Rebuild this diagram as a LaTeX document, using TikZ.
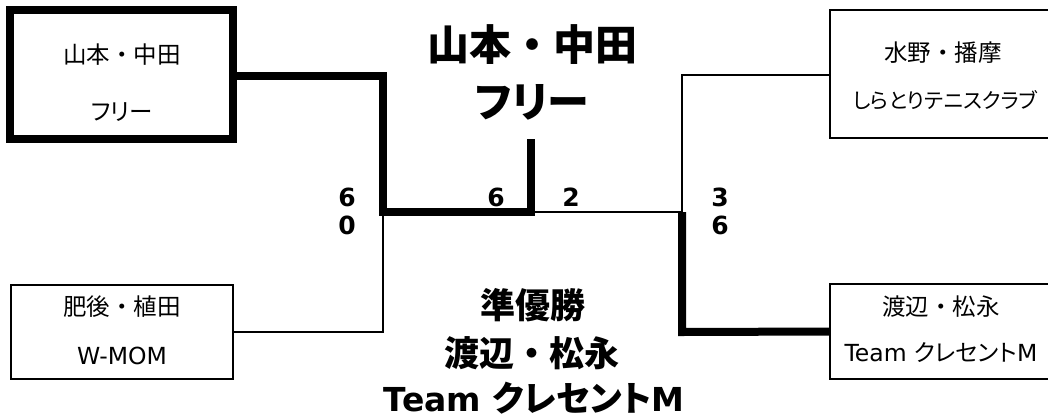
\documentclass[tikz,border=0pt]{standalone}
\usepackage{fontspec}
\newfontfamily\jp{Noto Sans CJK JP}
\newfontfamily\jpp[RawFeature=+palt]{Noto Sans CJK JP}
\newfontfamily\lat{DejaVu Sans}
\begin{document}
\begin{tikzpicture}[x=1pt,y=-1pt,
  boxthick/.style={draw,line width=8pt,inner sep=0pt,outer sep=0pt},
  boxthin/.style={draw,line width=2.8pt,inner sep=0pt,outer sep=0pt},
  thickline/.style={line width=8pt,line join=miter},
  thinline/.style={line width=2.8pt,line join=miter},
  boxtxt/.style={inner sep=0pt,font=\fontsize{23.5}{28}\selectfont\jp},
  titletop/.style={inner sep=0pt,font=\fontsize{42}{48}\selectfont\jp\bfseries},
  titlebot/.style={inner sep=0pt,font=\fontsize{35}{40}\selectfont\jp\bfseries},
  score/.style={inner sep=0pt,font=\fontsize{25}{30}\selectfont\lat\bfseries}]
\useasboundingbox (0,0) rectangle (1048,418);
\clip (0,0) rectangle (1048,418);
% boxes
\node[boxthick,minimum width=223pt,minimum height=129pt] (b1) at (121.5,74.5) {};
\node[boxthin,minimum width=222pt,minimum height=128pt] (b2) at (941,74) {};
\node[boxthin,minimum width=222pt,minimum height=94pt] (b3) at (122,332) {};
\node[boxthin,minimum width=222pt,minimum height=95pt] (b4) at (941,331.5) {};
% box texts
\node[boxtxt] (b1a) at (122,55) {山本・中田};
\node[boxtxt] (b1b) at (122,112) {\jpp フリー};
\node[boxtxt] (b2a) at (943,53) {水野・播摩};
\node[boxtxt,font=\fontsize{21}{26}\selectfont\jpp] (b2b) at (945,100) {しらとりテニスクラブ};
\node[boxtxt] (b3a) at (122,307) {肥後・植田};
\node[boxtxt] (b3b) at (122,356) {\lat W-MOM};
\node[boxtxt] (b4a) at (941,307) {渡辺・松永};
\node[boxtxt] (b4b) at (941,353) {{\lat Team }{\jpp クレセント}{\lat M}};
% coordinates
\coordinate (c1) at (383,76);
\coordinate (c2) at (383,212);
\coordinate (c3) at (531,212);
\coordinate (c4) at (531,139);
\coordinate (c5) at (682,212);
\coordinate (c6) at (383,332);
\coordinate (c7) at (682,75);
\coordinate (c8) at (682,332);
% connectors
\draw[thickline] (b1.east |- c1) -- (c1) -- (c2) -- (c3) -- (c4);
\draw[thinline] (b3.east) -- (c6) -- (c2);
\draw[thinline] (c3) -- (c5);
\draw[thinline] (b2.west |- c7) -- (c7) -- (c5);
\draw[thickline] (c5) -- (c8) -- (b4.west);
% scores
\node[score] (s1) at (347,197) {6};
\node[score] (s2) at (347,225) {0};
\node[score] (s3) at (496,197) {6};
\node[score] (s4) at (571,197) {2};
\node[score] (s5) at (720,197) {3};
\node[score] (s6) at (720,225) {6};
% titles
\node[titletop] (t1) at (532,45) {山本・中田};
\node[titletop] (t2) at (532,102) {\jpp フリー};
\node[titlebot] (t3) at (533,305) {準優勝};
\node[titlebot] (t4) at (532,353) {渡辺・松永};
\node[titlebot] (t5) at (534,398) {{\lat\fontsize{33}{40}\selectfont Team }{\jpp クレセント}{\lat\fontsize{33}{40}\selectfont M}};
\end{tikzpicture}
\end{document}
